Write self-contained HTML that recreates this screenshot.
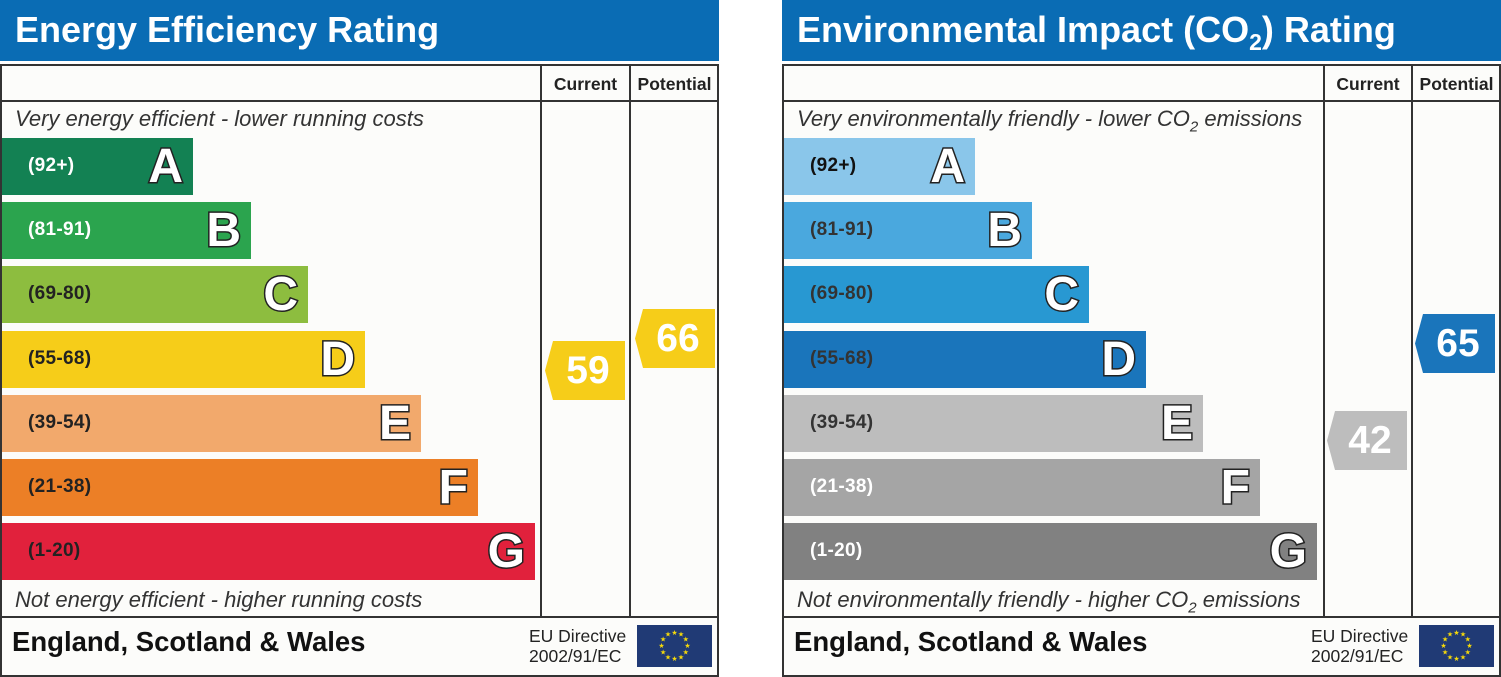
<!DOCTYPE html>
<html><head><meta charset="utf-8"><style>
body{margin:0;width:1501px;height:675px;background:#fff;position:relative;overflow:hidden;font-family:"Liberation Sans",sans-serif}
.a{position:absolute}
.hdr{background:#0a6cb4;height:61px;top:0;width:719px}
.ttl{color:#fff;font-weight:bold;font-size:36px;top:9px;left:15px;white-space:nowrap;transform-origin:0 0;transform:scaleX(1.0)}
.box{top:64px;height:609px;width:715px;border:2px solid #333;background:#fcfcfa}
.vl{width:2px;background:#333;top:66px;height:551px}
.hl{height:2px;background:#333}
.ch{font-weight:bold;font-size:17.5px;top:74px;color:#222;text-align:center;white-space:nowrap}
.it{font-style:italic;font-size:22px;color:#333;white-space:nowrap}
.bar{height:57px;left:2px}
.rg{font-weight:bold;font-size:19px;top:17px;left:26px;white-space:nowrap;letter-spacing:0.3px}
.lt{font-weight:bold;font-size:48px;color:#fff;-webkit-text-stroke:3px #222;paint-order:stroke fill;top:1px;right:10px;font-family:"Liberation Sans",sans-serif}
.arr{width:80px;height:59px;clip-path:polygon(0 50%,10% 0,100% 0,100% 100%,10% 100%);color:#fff;font-weight:bold;font-size:39px;text-align:center;line-height:59px;padding-left:6px;box-sizing:border-box}
.ft{font-weight:bold;font-size:27.5px;top:626px;color:#111;white-space:nowrap}
.eu{font-size:17.5px;color:#222;line-height:20px;top:626px;white-space:nowrap}
.flag{width:75px;height:42px;top:625px;background:#203a75}
</style></head><body>
<!-- LEFT -->
<div class="a hdr" style="left:0"></div>
<div class="a ttl">Energy Efficiency Rating</div>
<div class="a box" style="left:0"></div>
<div class="a hl" style="left:0;top:100px;width:719px"></div>
<div class="a hl" style="left:0;top:616px;width:719px"></div>
<div class="a vl" style="left:540px"></div>
<div class="a vl" style="left:629px"></div>
<div class="a ch" style="left:542px;width:87px">Current</div>
<div class="a ch" style="left:631px;width:87px">Potential</div>
<div class="a it" style="left:15px;top:106px">Very energy efficient - lower running costs</div>
<div class="a it" style="left:15px;top:587px">Not energy efficient - higher running costs</div>
<div class="a bar" style="top:138px;width:191px;background:#138153"><span class="a rg" style="color:#fff">(92+)</span><span class="a lt">A</span></div>
<div class="a bar" style="top:202px;width:249px;background:#2ba44e"><span class="a rg" style="color:#fff">(81-91)</span><span class="a lt">B</span></div>
<div class="a bar" style="top:266px;width:306px;background:#8dbd3f"><span class="a rg" style="color:#222">(69-80)</span><span class="a lt">C</span></div>
<div class="a bar" style="top:331px;width:363px;background:#f6cd19"><span class="a rg" style="color:#222">(55-68)</span><span class="a lt">D</span></div>
<div class="a bar" style="top:395px;width:419px;background:#f2a96c"><span class="a rg" style="color:#222">(39-54)</span><span class="a lt">E</span></div>
<div class="a bar" style="top:459px;width:476px;background:#ec7f26"><span class="a rg" style="color:#222">(21-38)</span><span class="a lt">F</span></div>
<div class="a bar" style="top:523px;width:533px;background:#e1213c"><span class="a rg" style="color:#222">(1-20)</span><span class="a lt">G</span></div>
<div class="a arr" style="left:545px;top:341px;background:#f6cd19">59</div>
<div class="a arr" style="left:635px;top:309px;background:#f6cd19">66</div>
<div class="a ft" style="left:12px">England, Scotland &amp; Wales</div>
<div class="a eu" style="left:529px">EU Directive<br>2002/91/EC</div>
<svg class="a flag" style="left:637px" viewBox="0 0 75 42"><g fill="#f5d90a" font-size="7" text-anchor="middle">
<text x="37.5" y="10">★</text><text x="44" y="11.7">★</text><text x="48.8" y="16.5">★</text><text x="50.5" y="23">★</text><text x="48.8" y="29.5">★</text><text x="44" y="34.3">★</text><text x="37.5" y="36">★</text><text x="31" y="34.3">★</text><text x="26.2" y="29.5">★</text><text x="24.5" y="23">★</text><text x="26.2" y="16.5">★</text><text x="31" y="11.7">★</text></g></svg>

<!-- RIGHT -->
<div class="a hdr" style="left:782px"></div>
<div class="a ttl" style="left:797px">Environmental Impact (CO<sub style="font-size:23px">2</sub>) Rating</div>
<div class="a box" style="left:782px"></div>
<div class="a hl" style="left:782px;top:100px;width:719px"></div>
<div class="a hl" style="left:782px;top:616px;width:719px"></div>
<div class="a vl" style="left:1323px"></div>
<div class="a vl" style="left:1411px"></div>
<div class="a ch" style="left:1325px;width:86px">Current</div>
<div class="a ch" style="left:1413px;width:87px">Potential</div>
<div class="a it" style="left:797px;top:106px">Very environmentally friendly - lower CO<sub style="font-size:15px">2</sub> emissions</div>
<div class="a it" style="left:797px;top:587px">Not environmentally friendly - higher CO<sub style="font-size:15px">2</sub> emissions</div>
<div class="a bar" style="left:784px;top:138px;width:191px;background:#8ac6ea"><span class="a rg" style="color:#111">(92+)</span><span class="a lt">A</span></div>
<div class="a bar" style="left:784px;top:202px;width:248px;background:#4aa8de"><span class="a rg" style="color:#333">(81-91)</span><span class="a lt">B</span></div>
<div class="a bar" style="left:784px;top:266px;width:305px;background:#2898d2"><span class="a rg" style="color:#333">(69-80)</span><span class="a lt">C</span></div>
<div class="a bar" style="left:784px;top:331px;width:362px;background:#1a75bb"><span class="a rg" style="color:#333">(55-68)</span><span class="a lt">D</span></div>
<div class="a bar" style="left:784px;top:395px;width:419px;background:#bdbdbd"><span class="a rg" style="color:#333">(39-54)</span><span class="a lt">E</span></div>
<div class="a bar" style="left:784px;top:459px;width:476px;background:#a5a5a5"><span class="a rg" style="color:#fff">(21-38)</span><span class="a lt">F</span></div>
<div class="a bar" style="left:784px;top:523px;width:533px;background:#818181"><span class="a rg" style="color:#fff">(1-20)</span><span class="a lt">G</span></div>
<div class="a arr" style="left:1327px;top:411px;background:#bdbdbd">42</div>
<div class="a arr" style="left:1415px;top:314px;background:#1a75bb">65</div>
<div class="a ft" style="left:794px">England, Scotland &amp; Wales</div>
<div class="a eu" style="left:1311px">EU Directive<br>2002/91/EC</div>
<svg class="a flag" style="left:1419px" viewBox="0 0 75 42"><g fill="#f5d90a" font-size="7" text-anchor="middle">
<text x="37.5" y="10">★</text><text x="44" y="11.7">★</text><text x="48.8" y="16.5">★</text><text x="50.5" y="23">★</text><text x="48.8" y="29.5">★</text><text x="44" y="34.3">★</text><text x="37.5" y="36">★</text><text x="31" y="34.3">★</text><text x="26.2" y="29.5">★</text><text x="24.5" y="23">★</text><text x="26.2" y="16.5">★</text><text x="31" y="11.7">★</text></g></svg>
</body></html>
